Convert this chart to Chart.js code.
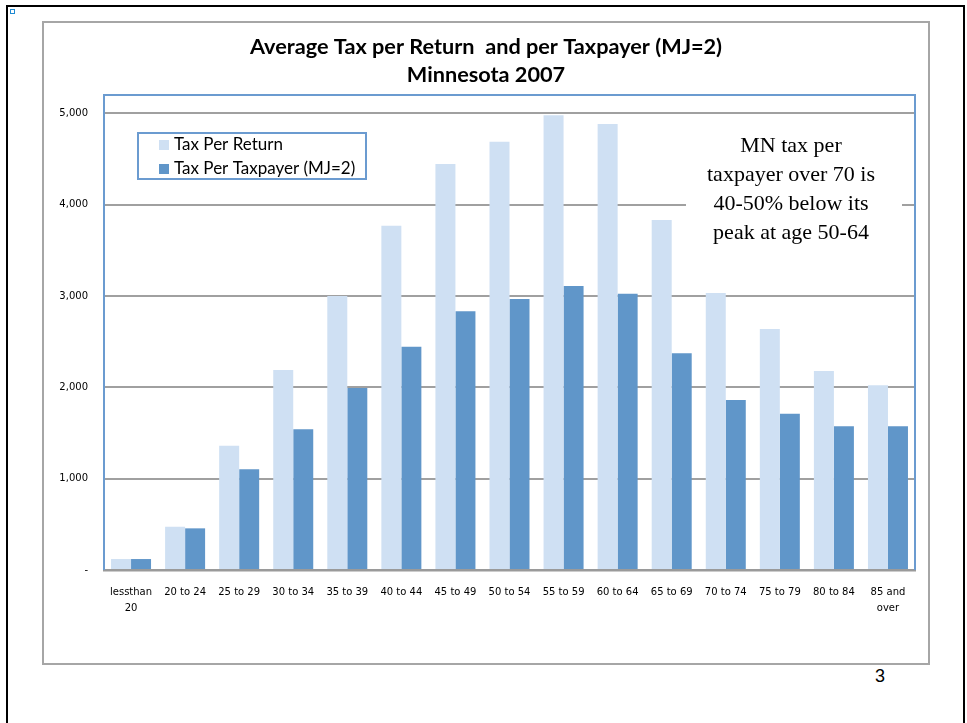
<!DOCTYPE html>
<html>
<head>
<meta charset="utf-8">
<script src="https://cdn.jsdelivr.net/npm/chart.js@4/dist/chart.umd.min.js"></script>
<style>
  html, body { margin: 0; padding: 0; background: #fff; }
  body { width: 967px; height: 723px; position: relative; overflow: hidden; }
  .frame { position: absolute; left: 6px; top: 5px; width: 955px; height: 760px; border: 2px solid #000; border-bottom: none; }
  .marker { position: absolute; left: 10px; top: 9px; width: 3px; height: 3px; border: 1px solid #1f8ad2; }
  .box { position: absolute; left: 42px; top: 21px; width: 884px; height: 640px; border: 2px solid #a6a6a6; }
  .page { position: absolute; left: 860px; top: 666px; width: 40px; text-align: center; font: 18px "Liberation Sans", Arial, sans-serif; color: #000; }
  #chart { position: absolute; left: 0; top: 0; }
</style>
</head>
<body>
<div class="frame"></div>
<div class="marker"></div>
<div class="box"></div>
<div class="page">3</div>
<canvas id="chart" width="967" height="723"></canvas>
<script>
// age groups
const categories = [
  ['lessthan', '20'], '20 to 24', '25 to 29', '30 to 34', '35 to 39', '40 to 44',
  '45 to 49', '50 to 54', '55 to 59', '60 to 64', '65 to 69', '70 to 74',
  '75 to 79', '80 to 84', ['85 and', 'over']
]
const taxPerReturn = [120, 474, 1361, 2190, 3000, 3770, 4445, 4689, 4978, 4883, 3832, 3033, 2638, 2179, 2022]
const taxPerTaxpayer = [120, 456, 1102, 1540, 1993, 2445, 2832, 2967, 3109, 3025, 2372, 1861, 1711, 1573, 1573]
const yTicks = [0, 1000, 2000, 3000, 4000, 5000]
const titleLines = ['Average Tax per Return  and per Taxpayer (MJ=2)', 'Minnesota 2007']
const noteLines = ['MN tax per', 'taxpayer over 70 is', '40-50% below its', 'peak at age 50-64']

const LIGHT = '#cfe0f3'
const DARK = '#6096c9'
const FRAME_BLUE = '#6b9bd0'

// plot border, legend box and the text note
const extras = {
  id: 'extras',
  afterDatasetsDraw(chart) {
    const { ctx, chartArea: a } = chart
    ctx.save()
    ctx.strokeStyle = FRAME_BLUE
    ctx.lineWidth = 2
    ctx.beginPath()
    ctx.moveTo(a.left, a.bottom)
    ctx.lineTo(a.left, a.top)
    ctx.lineTo(a.right, a.top)
    ctx.lineTo(a.right, a.bottom)
    ctx.stroke()
    ctx.restore()
  },
  afterDraw(chart) {
    const { ctx } = chart
    ctx.save()

    // legend
    ctx.fillStyle = '#fff'
    ctx.fillRect(138, 133, 228, 46)
    ctx.strokeStyle = FRAME_BLUE
    ctx.lineWidth = 2
    ctx.strokeRect(138, 133, 228, 46)
    ctx.font = '17px Lato'
    ctx.textBaseline = 'middle'
    chart.data.datasets.forEach((ds, i) => {
      const cy = 145 + i * 24
      ctx.fillStyle = ds.backgroundColor
      ctx.fillRect(159, cy - 5, 10, 10)
      ctx.fillStyle = '#000'
      ctx.fillText(ds.label, 174, cy)
    })

    // note
    ctx.fillStyle = '#fff'
    ctx.fillRect(686, 128, 216, 120)
    ctx.fillStyle = '#000'
    ctx.font = '22px "Liberation Serif"'
    ctx.textAlign = 'center'
    noteLines.forEach((t, i) => ctx.fillText(t, 791, 146 + i * 29))
    ctx.restore()
  }
}

new Chart(document.getElementById('chart'), {
  type: 'bar',
  data: {
    labels: categories,
    datasets: [
      { label: 'Tax Per Return', data: taxPerReturn, backgroundColor: LIGHT },
      { label: 'Tax Per Taxpayer (MJ=2)', data: taxPerTaxpayer, backgroundColor: DARK }
    ]
  },
  options: {
    responsive: false,
    animation: false,
    // left padding keeps the title centred on the grey box
    layout: { padding: { left: 57, right: 52, top: 0, bottom: 93 } },
    datasets: { bar: { categoryPercentage: 0.74, barPercentage: 1 } },
    plugins: {
      legend: { display: false },
      tooltip: { enabled: false },
      title: {
        display: true,
        text: titleLines,
        color: '#000',
        font: { family: 'Lato', size: 21.7, weight: 'bold', lineHeight: 28 / 21.7 },
        padding: { top: 33, bottom: 6 }
      }
    },
    scales: {
      x: {
        grid: { display: false, drawTicks: false },
        border: { color: '#9a9a9a', width: 2.5 },
        ticks: {
          color: '#000',
          font: { family: 'DejaVu Sans', size: 10, lineHeight: 1.6 },
          padding: 14,
          maxRotation: 0,
          autoSkip: false
        },
        afterFit(scale) { scale.height = 60 }
      },
      y: {
        min: 0,
        max: 5200,
        grid: { color: '#a0a0a0', lineWidth: 2, drawTicks: false },
        border: { display: false },
        ticks: {
          color: '#000',
          font: { family: 'DejaVu Sans', size: 10 },
          padding: 16,
          callback: (v) => v === 0 ? '-' : v.toLocaleString('en-US')
        },
        afterBuildTicks(scale) { scale.ticks = yTicks.map(v => ({ value: v })) },
        afterFit(scale) { scale.width = 47 }
      }
    }
  },
  plugins: [extras]
})
</script>
</body>
</html>
